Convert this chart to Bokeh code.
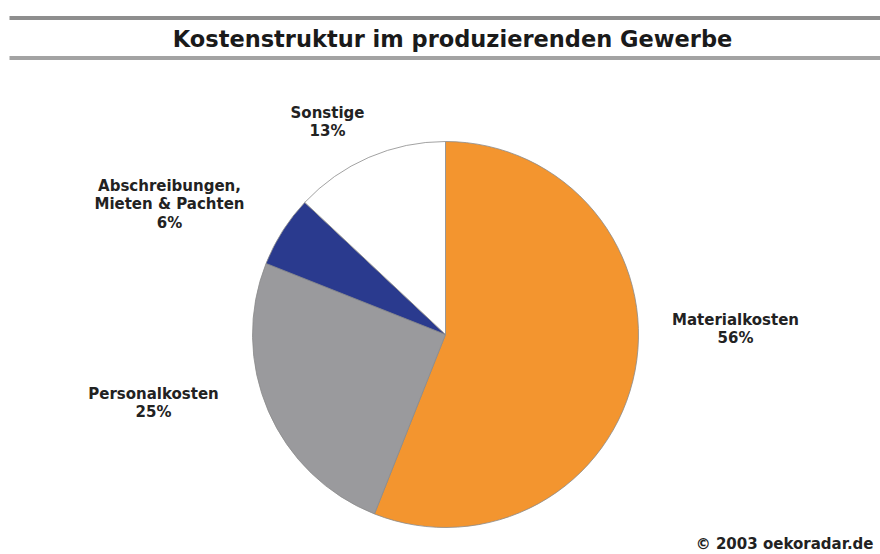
import math
from bokeh.plotting import figure
from bokeh.models import Range1d, ColumnDataSource
from bokeh.core.properties import value
from bokeh.embed import file_html
from bokeh.resources import INLINE

# ---- data ----
title = "Kostenstruktur im produzierenden Gewerbe"
categories = ["Materialkosten", "Personalkosten", "Abschreibungen,\nMieten & Pachten", "Sonstige"]
shares = [56, 25, 6, 13]
colors = ["#F3952F", "#9A9A9D", "#2A3A8E", "#FFFFFF"]
credit = "\u00a9 2003 oekoradar.de"

W, H = 880, 554
FONT = "DejaVu Sans"

p = figure(width=W, height=H, output_backend="svg", toolbar_location=None,
           x_range=Range1d(0, W), y_range=Range1d(0, H),
           x_axis_type=None, y_axis_type=None, min_border=0)
p.grid.visible = False
p.outline_line_color = None
p.background_fill_color = "white"
p.border_fill_color = "white"

def X(ix):
    return ix

def Y(iy):
    return H - iy

# title rules
p.segment(x0=[X(9), X(9)], y0=[Y(17.5), Y(57.5)], x1=[X(880), X(880)], y1=[Y(17.5), Y(57.5)],
          line_color=["#8E8E8E", "#A3A3A3"], line_width=4)

p.text(x=[X(452)], y=[Y(38)], text=[title], text_font=value(FONT), text_font_style="bold",
       text_font_size="22.5px", text_color="#1a1a1a", text_align="center", text_baseline="middle")

# pie wedges, clockwise from 12 o'clock
total = float(sum(shares))
starts, ends = [], []
cum = 0.0
for s in shares:
    starts.append(math.pi / 2 - 2 * math.pi * cum / total)
    cum += s
    ends.append(math.pi / 2 - 2 * math.pi * cum / total)

src = ColumnDataSource(dict(start=starts, end=ends, color=colors, cat=categories, share=shares))
cx, cy, r = X(445), Y(334), 193
p.wedge(x=cx, y=cy, radius=r, start_angle="start", end_angle="end", direction="clock",
        fill_color="color", line_color="#8A8A8A", line_width=0.8, source=src)

# labels (anchor positions per slice, in image pixels)
label_pos = [(735, 319), (153, 393), (169, 185), (327, 112)]
line_step = 18.5
lx, ly, lt = [], [], []
for cat, sh, (ix, iy) in zip(categories, shares, label_pos):
    lines = cat.split("\n") + ["%d%%" % sh]
    for k, ln in enumerate(lines):
        lx.append(X(ix))
        ly.append(Y(iy + k * line_step))
        lt.append(ln)
p.text(x=lx, y=ly, text=lt, text_font=value(FONT), text_font_style="bold",
       text_font_size="15px", text_color="#222222", text_align="center", text_baseline="middle")

p.text(x=[X(873)], y=[Y(543)], text=[credit], text_font=value(FONT), text_font_style="bold",
       text_font_size="15px", text_color="#222222", text_align="right", text_baseline="middle")

open("out.html", "w").write(file_html(p, INLINE))
